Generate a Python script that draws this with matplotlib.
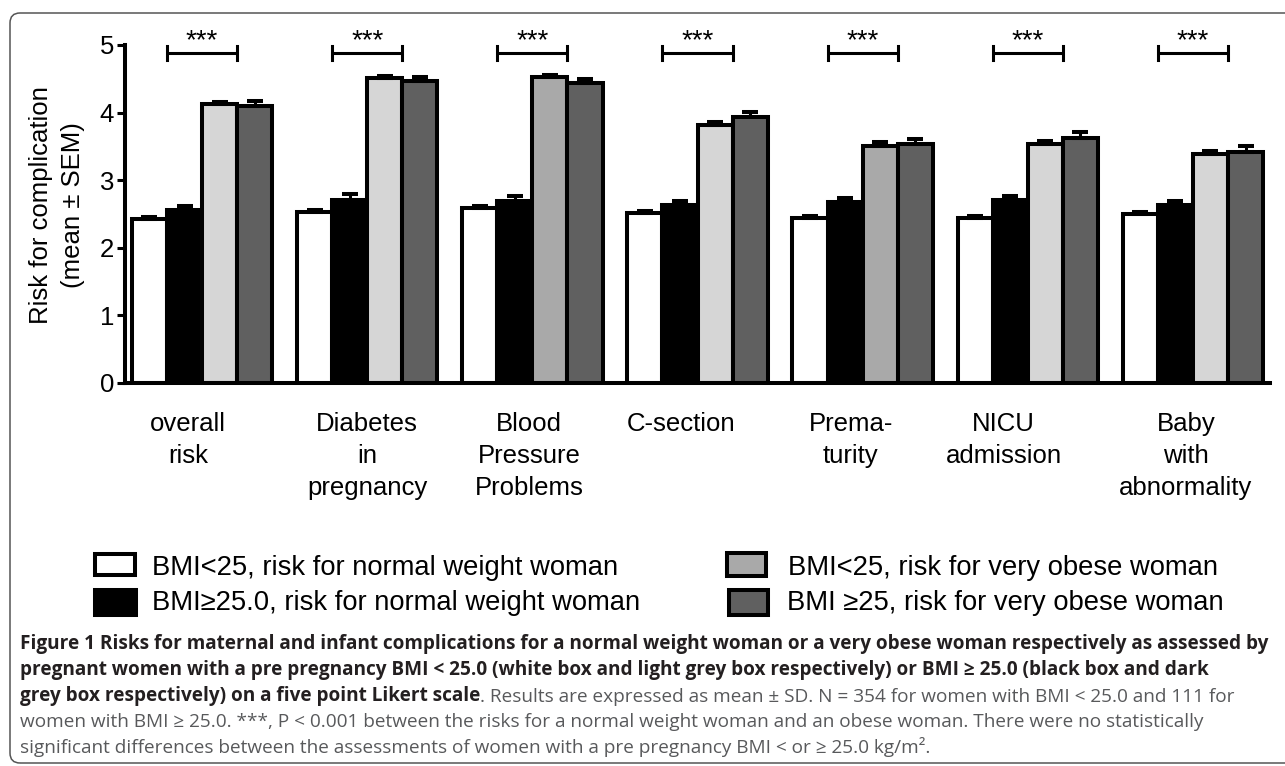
import matplotlib
matplotlib.use("Agg")
import matplotlib.pyplot as plt
import numpy as np
from matplotlib.patches import Rectangle, FancyBboxPatch
from matplotlib.transforms import ScaledTranslation

plt.rcParams['font.family'] = ['Liberation Sans', 'DejaVu Sans']

# data (mean and SEM on a 1-5 Likert scale)
categories = ["overall\nrisk", "Diabetes\nin\npregnancy", "Blood\nPressure\nProblems",
              "C-section", "Prema-\nturity", "NICU\nadmission", "Baby\nwith\nabnormality"]
series = ["BMI<25, risk for normal weight woman", "BMI\u226525.0, risk for normal weight woman",
          "BMI<25, risk for very obese woman", "BMI \u226525, risk for very obese woman"]
white = [2.43, 2.53, 2.59, 2.51, 2.44, 2.44, 2.50]
black = [2.56, 2.71, 2.69, 2.63, 2.68, 2.70, 2.63]
light = [4.12, 4.51, 4.52, 3.81, 3.51, 3.53, 3.39]
dark = [4.10, 4.47, 4.44, 3.93, 3.53, 3.62, 3.42]
white_sem = [0.03, 0.03, 0.03, 0.03, 0.03, 0.03, 0.03]
black_sem = [0.06, 0.08, 0.08, 0.06, 0.06, 0.07, 0.06]
light_sem = [0.04, 0.03, 0.04, 0.05, 0.05, 0.05, 0.04]
dark_sem = [0.07, 0.06, 0.06, 0.08, 0.08, 0.09, 0.09]
signif = ["***"] * 7

# styling
light_cols = ['#d6d6d6', '#d6d6d6', '#a9a9a9', '#d6d6d6', '#a9a9a9', '#d6d6d6', '#d6d6d6']
label_nudge = [-14, 0, -3, -16, -12, -24, -7]   # px, the labels are not exactly centred

W, H = 1285, 766
fig = plt.figure(figsize=(W / 100, H / 100), dpi=100)
ax = fig.add_axes([125 / W, 1 - 383 / H, (1270 - 125) / W, (383 - 45) / H])

x = np.arange(len(categories))
w = 0.2125
lw = 2.9
means = [white, black, light, dark]
sems = [white_sem, black_sem, light_sem, dark_sem]
fills = ['white', 'black', light_cols, '#606060']
for k in range(4):
    xs = x + (k - 1.5) * w
    ax.bar(xs, means[k], width=w, color=fills[k], edgecolor='black', linewidth=lw, zorder=2)
    ax.errorbar(xs, means[k], yerr=[np.zeros(len(x)), sems[k]], fmt='none', ecolor='black',
                elinewidth=2.2, capsize=6, capthick=2.9, zorder=3)

# significance brackets between the normal weight pair and the obese pair
for i, s in enumerate(signif):
    x0, x1 = x[i] - w, x[i] + w
    ax.plot([x0, x1], [4.88, 4.88], color='black', lw=2.2, clip_on=False, solid_capstyle='butt')
    ax.plot([x0, x0], [4.78, 4.98], color='black', lw=2.2, clip_on=False)
    ax.plot([x1, x1], [4.78, 4.98], color='black', lw=2.2, clip_on=False)
    ax.text(x[i], 4.95, s, ha='center', va='baseline', fontsize=20, clip_on=False)

ax.set_ylim(0, 5)
ax.set_xlim(-0.467, 6.467)
ax.set_yticks([0, 1, 2, 3, 4, 5])
ax.spines['top'].set_visible(False)
ax.spines['right'].set_visible(False)
ax.spines['left'].set_linewidth(2.9)
ax.spines['bottom'].set_linewidth(2.9)
ax.tick_params(axis='y', length=6, width=2.2, pad=2, labelsize=18.5)
ax.set_xticks(x)
ax.set_xticklabels(categories, fontsize=18.5, linespacing=1.42)
ax.tick_params(axis='x', length=0, pad=21)
for lab, dx in zip(ax.get_xticklabels(), label_nudge):
    lab.set_transform(lab.get_transform() + ScaledTranslation(dx / 100, 0, fig.dpi_scale_trans))

fig.text(57 / W, 1 - 205 / H, "Risk for complication\n(mean \u00b1 SEM)", rotation=90,
         ha='center', va='center', fontsize=18.5, linespacing=1.42)

# legend drawn as boxes + text (two columns)
inch = fig.dpi_scale_trans
leg_fill = ['white', 'black', '#a9a9a9', '#606060']
leg_box = [(95, 554, 135, 575), (95, 590, 136, 615), (727, 553, 766, 576), (729, 590, 768, 615)]
leg_text = [(152, 575), (152, 610), (788, 575), (787, 610)]
for k in range(4):
    bx0, by0, bx1, by1 = leg_box[k]
    fig.add_artist(Rectangle((bx0 / 100, (H - by1) / 100), (bx1 - bx0) / 100, (by1 - by0) / 100,
                             facecolor=leg_fill[k], edgecolor='black', linewidth=2.9, transform=inch))
    tx, ty = leg_text[k]
    fig.text(tx / W, 1 - ty / H, series[k], ha='left', va='baseline', fontsize=19.7)

# frame around the figure panel
fig.add_artist(FancyBboxPatch((0.10, (H - 763) / 100), 12.95, (763 - 13) / 100,
                              boxstyle="round,pad=0,rounding_size=0.1", facecolor='none',
                              edgecolor='#555555', linewidth=1.1, transform=inch, clip_on=False))

# caption
cap_font = ['Open Sans', 'DejaVu Sans']
cap_size = 13.7
dark_txt = '#231f20'
grey_txt = '#58595b'
cap_lines = [
    ("Figure 1 Risks for maternal and infant complications for a normal weight woman or a very obese woman respectively as assessed by", ""),
    ("pregnant women with a pre pregnancy BMI < 25.0 (white box and light grey box respectively) or BMI \u2265 25.0 (black box and dark", ""),
    ("grey box respectively) on a five point Likert scale", ". Results are expressed as mean \u00b1 SD. N = 354 for women with BMI < 25.0 and 111 for"),
    ("", "women with BMI \u2265 25.0. ***, P < 0.001 between the risks for a normal weight woman and an obese woman. There were no statistically"),
    ("", "significant differences between the assessments of women with a pre pregnancy BMI < or \u2265 25.0 kg/m\u00b2."),
]
cap_base = [649, 675, 701, 727, 753]
for (bold, reg), yb in zip(cap_lines, cap_base):
    if bold:
        t1 = fig.text(20 / W, 1 - yb / H, bold, ha='left', va='baseline', fontsize=cap_size,
                      fontweight='bold', family=cap_font, color=dark_txt)
        if reg:
            ax.annotate(reg, xy=(1, 0), xycoords=t1, ha='left', va='bottom', fontsize=cap_size,
                        family=cap_font, color=grey_txt, annotation_clip=False)
    else:
        fig.text(20 / W, 1 - yb / H, reg, ha='left', va='baseline', fontsize=cap_size,
                 family=cap_font, color=grey_txt)

fig.savefig("out.png", dpi=100)
